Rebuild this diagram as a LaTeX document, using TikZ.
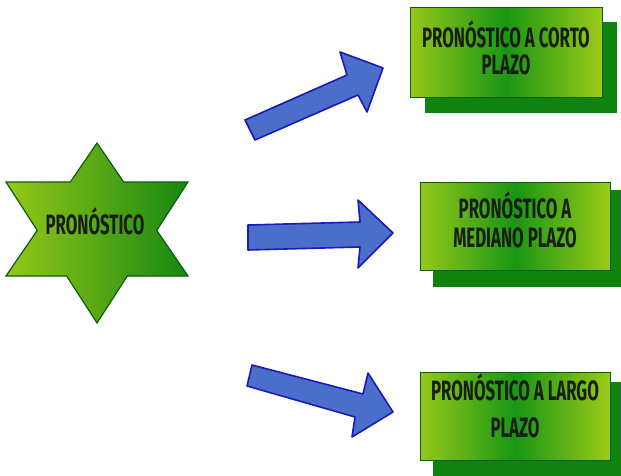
\documentclass[tikz,border=0pt]{standalone}
\usepackage{fontspec}
\newfontfamily\condfont{Fira Sans}[FakeStretch=0.6]
\definecolor{lightg}{RGB}{150,200,25}
\definecolor{darkg}{RGB}{25,150,20}
\definecolor{shadowg}{RGB}{15,130,15}
\definecolor{borderg}{RGB}{10,95,10}
\definecolor{arrowfill}{RGB}{75,110,200}
\definecolor{arrowline}{RGB}{25,25,190}
\definecolor{txt}{RGB}{25,30,20}
\tikzset{
  lbl/.style={anchor=base, inner sep=0pt, text=txt, font=\condfont\bfseries\fontsize{28}{30}\selectfont},
  bluearrow/.style={fill=arrowfill, draw=arrowline, line width=1.6pt, line join=round},
  boxshadow/.style={fill=shadowg},
  boxfront/.style={left color=lightg, right color=lightg!95!yellow, middle color=darkg, draw=borderg, line width=1pt}
}
\begin{document}
\begin{tikzpicture}[x=1pt,y=-1pt]
\useasboundingbox (0,0) rectangle (621,476);
% star
\coordinate (T) at (97,143);
\coordinate (LL) at (6,276);
\coordinate (LR) at (188,276);
\coordinate (UL) at (6,182);
\coordinate (UR) at (188,182);
\coordinate (B) at (97,323);
\coordinate (i1) at (intersection of T--LL and UL--UR);
\coordinate (i2) at (intersection of T--LR and UL--UR);
\coordinate (i3) at (intersection of T--LR and UR--B);
\coordinate (i4) at (intersection of LL--LR and UR--B);
\coordinate (i5) at (intersection of LL--LR and UL--B);
\coordinate (i6) at (intersection of T--LL and UL--B);
\shade[left color=lightg, right color=darkg!90!black, draw=borderg, line width=1.2pt, line join=miter]
  (T) -- (i2) -- (UR) -- (i3) -- (LR) -- (i4) -- (B) -- (i5) -- (LL) -- (i6) -- (UL) -- (i1) -- cycle;
\node[lbl] (star) at (95,234) {PRONÓSTICO};
% arrows
\draw[bluearrow] (245,120) -- (347,75) -- (340,52) -- (383,68) -- (367,112) -- (358,95) -- (255,140) -- cycle;
\draw[bluearrow] (248,225) -- (360,222) -- (358,200) -- (393,233) -- (358,268) -- (360,247) -- (248,250) -- cycle;
\draw[bluearrow] (252,365) -- (363,394) -- (368,373) -- (393,412) -- (352,437) -- (355,417) -- (247,386) -- cycle;
% box 1
\fill[boxshadow] (425,22) rectangle (617,113);
\shade[boxfront] (410,8) rectangle (602,98);
\node[lbl] (b1a) at (506,48) {PRONÓSTICO A CORTO};
\node[lbl] (b1b) at (506,75) {PLAZO};
% box 2
\fill[boxshadow] (433,190) rectangle (621,287);
\shade[boxfront] (420,182) rectangle (610,270);
\node[lbl] (b2a) at (515,218) {PRONÓSTICO A};
\node[lbl] (b2b) at (515,247) {MEDIANO PLAZO};
% box 3
\fill[boxshadow] (433,382) rectangle (621,476);
\shade[boxfront] (420,372) rectangle (610,460);
\node[lbl] (b3a) at (515,400) {PRONÓSTICO A LARGO};
\node[lbl] (b3b) at (515,437) {PLAZO};
\end{tikzpicture}
\end{document}
